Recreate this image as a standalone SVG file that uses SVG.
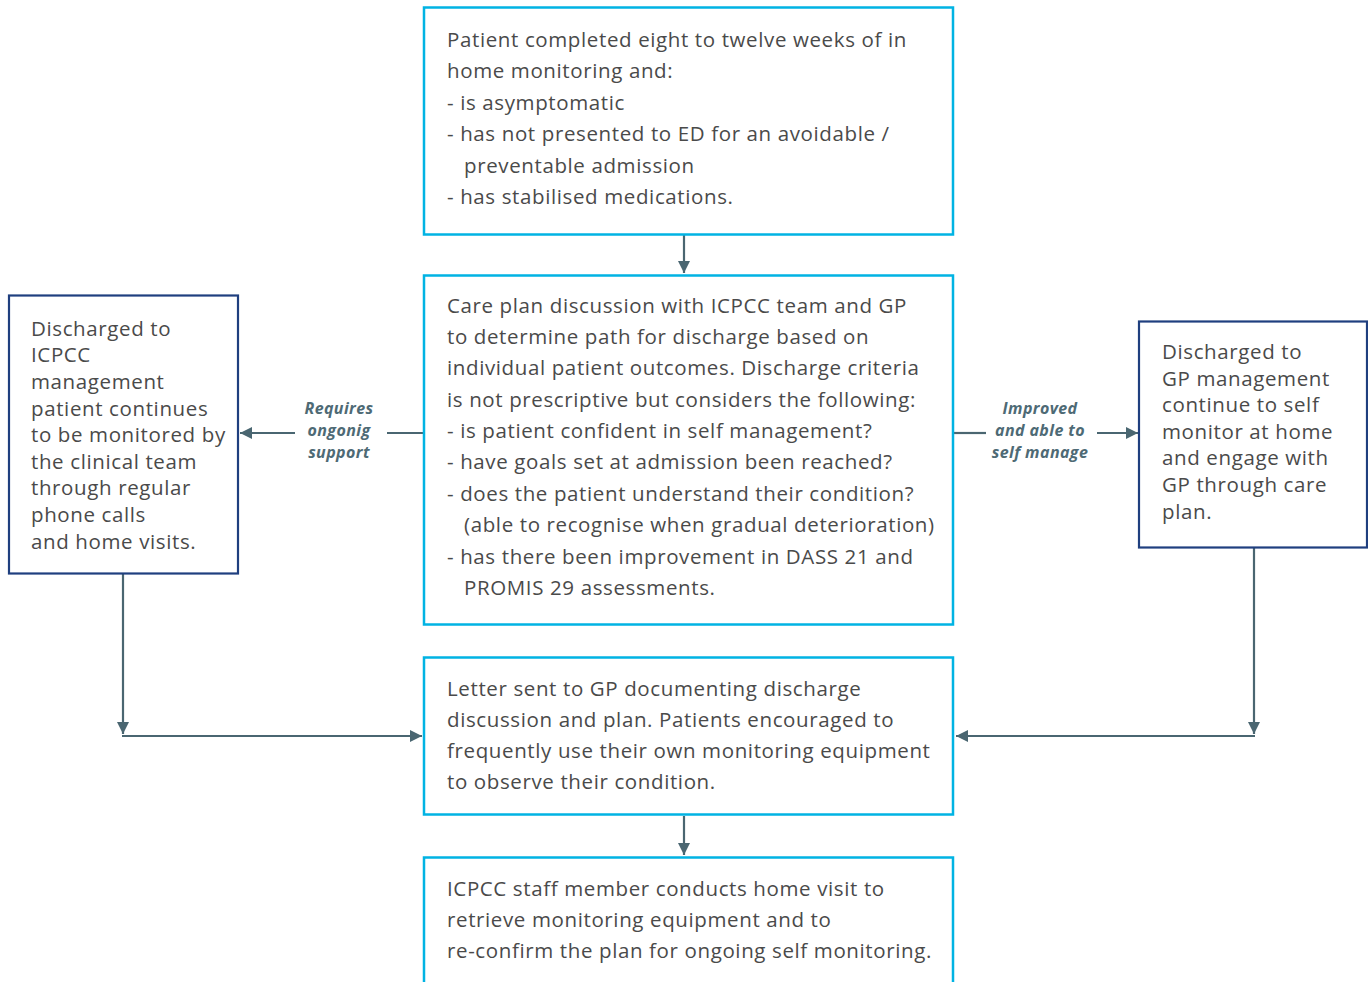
<svg xmlns="http://www.w3.org/2000/svg" width="1368" height="982" viewBox="0 0 1368 982">
<style>
.box{fill:#fff;stroke:#00b3e3;stroke-width:2.5}
.side{fill:#fff;stroke:#1f3f7f;stroke-width:2.2}
.t{font-family:"Open Sans",Lato,sans-serif;font-size:20.5px;letter-spacing:0.62px;fill:#4a4a4a}
.lbl{font-family:"Open Sans",Lato,sans-serif;font-size:16px;letter-spacing:0.4px;font-weight:bold;font-style:italic;fill:#4e6a75;text-anchor:middle}
.c{stroke:#4a6671;stroke-width:2.2;fill:none}
</style>
<defs>
<marker id="ah" viewBox="0 0 10 10" refX="10" refY="5" markerWidth="5.5" markerHeight="5.5" orient="auto" markerUnits="strokeWidth">
<path d="M0,0 L10,5 L0,10 z" fill="#4a6671"/>
</marker>
</defs>
<rect width="1368" height="982" fill="#fff"/>
<g id="connectors">
<line class="c" x1="684" y1="235" x2="684" y2="273" marker-end="url(#ah)"/>
<line class="c" x1="423" y1="433" x2="387" y2="433"/>
<line class="c" x1="295" y1="433" x2="240" y2="433" marker-end="url(#ah)"/>
<line class="c" x1="954" y1="433" x2="986" y2="433"/>
<line class="c" x1="1097" y1="433" x2="1138" y2="433" marker-end="url(#ah)"/>
<line class="c" x1="123" y1="574" x2="123" y2="734" marker-end="url(#ah)"/>
<line class="c" x1="122" y1="736" x2="422" y2="736" marker-end="url(#ah)"/>
<line class="c" x1="1254" y1="548" x2="1254" y2="734" marker-end="url(#ah)"/>
<line class="c" x1="1255" y1="736" x2="956" y2="736" marker-end="url(#ah)"/>
<line class="c" x1="684" y1="816" x2="684" y2="855" marker-end="url(#ah)"/>
<text class="lbl" x="339" y="414">Requires</text>
<text class="lbl" x="339" y="436">ongonig</text>
<text class="lbl" x="339" y="458">support</text>
<text class="lbl" x="1040" y="414">Improved</text>
<text class="lbl" x="1040" y="436">and able to</text>
<text class="lbl" x="1040" y="458">self manage</text>
</g>
<g id="n1">
<rect class="box" x="424" y="7.5" width="529" height="227"/>
<text class="t" x="447" y="47">Patient completed eight to twelve weeks of in</text>
<text class="t" x="447" y="78">home monitoring and:</text>
<text class="t" x="447" y="110">- is asymptomatic</text>
<text class="t" x="447" y="141">- has not presented to ED for an avoidable /</text>
<text class="t" x="464" y="173">preventable admission</text>
<text class="t" x="447" y="204">- has stabilised medications.</text>
</g>
<g id="n2">
<rect class="box" x="424" y="275.5" width="529" height="349"/>
<text class="t" x="447" y="313">Care plan discussion with ICPCC team and GP</text>
<text class="t" x="447" y="344">to determine path for discharge based on</text>
<text class="t" x="447" y="375">individual patient outcomes. Discharge criteria</text>
<text class="t" x="447" y="407">is not prescriptive but considers the following:</text>
<text class="t" x="447" y="438">- is patient confident in self management?</text>
<text class="t" x="447" y="469">- have goals set at admission been reached?</text>
<text class="t" x="447" y="501">- does the patient understand their condition?</text>
<text class="t" x="464" y="532">(able to recognise when gradual deterioration)</text>
<text class="t" x="447" y="564">- has there been improvement in DASS 21 and</text>
<text class="t" x="464" y="595">PROMIS 29 assessments.</text>
</g>
<g id="n3">
<rect class="box" x="424" y="657.5" width="529" height="157"/>
<text class="t" x="447" y="696">Letter sent to GP documenting discharge</text>
<text class="t" x="447" y="727">discussion and plan. Patients encouraged to</text>
<text class="t" x="447" y="758">frequently use their own monitoring equipment</text>
<text class="t" x="447" y="789">to observe their condition.</text>
</g>
<g id="n4">
<rect class="box" x="424" y="857.5" width="529" height="160"/>
<text class="t" x="447" y="896">ICPCC staff member conducts home visit to</text>
<text class="t" x="447" y="927">retrieve monitoring equipment and to</text>
<text class="t" x="447" y="958">re-confirm the plan for ongoing self monitoring.</text>
</g>
<g id="left">
<rect class="side" x="9" y="295.5" width="229" height="278"/>
<text class="t" x="31" y="336">Discharged to</text>
<text class="t" x="31" y="362">ICPCC</text>
<text class="t" x="31" y="389">management</text>
<text class="t" x="31" y="416">patient continues</text>
<text class="t" x="31" y="442">to be monitored by</text>
<text class="t" x="31" y="469">the clinical team</text>
<text class="t" x="31" y="495">through regular</text>
<text class="t" x="31" y="522">phone calls</text>
<text class="t" x="31" y="549">and home visits.</text>
</g>
<g id="right">
<rect class="side" x="1139" y="321.5" width="228" height="226"/>
<text class="t" x="1162" y="359">Discharged to</text>
<text class="t" x="1162" y="386">GP management</text>
<text class="t" x="1162" y="412">continue to self</text>
<text class="t" x="1162" y="439">monitor at home</text>
<text class="t" x="1162" y="465">and engage with</text>
<text class="t" x="1162" y="492">GP through care</text>
<text class="t" x="1162" y="519">plan.</text>
</g>
</svg>
